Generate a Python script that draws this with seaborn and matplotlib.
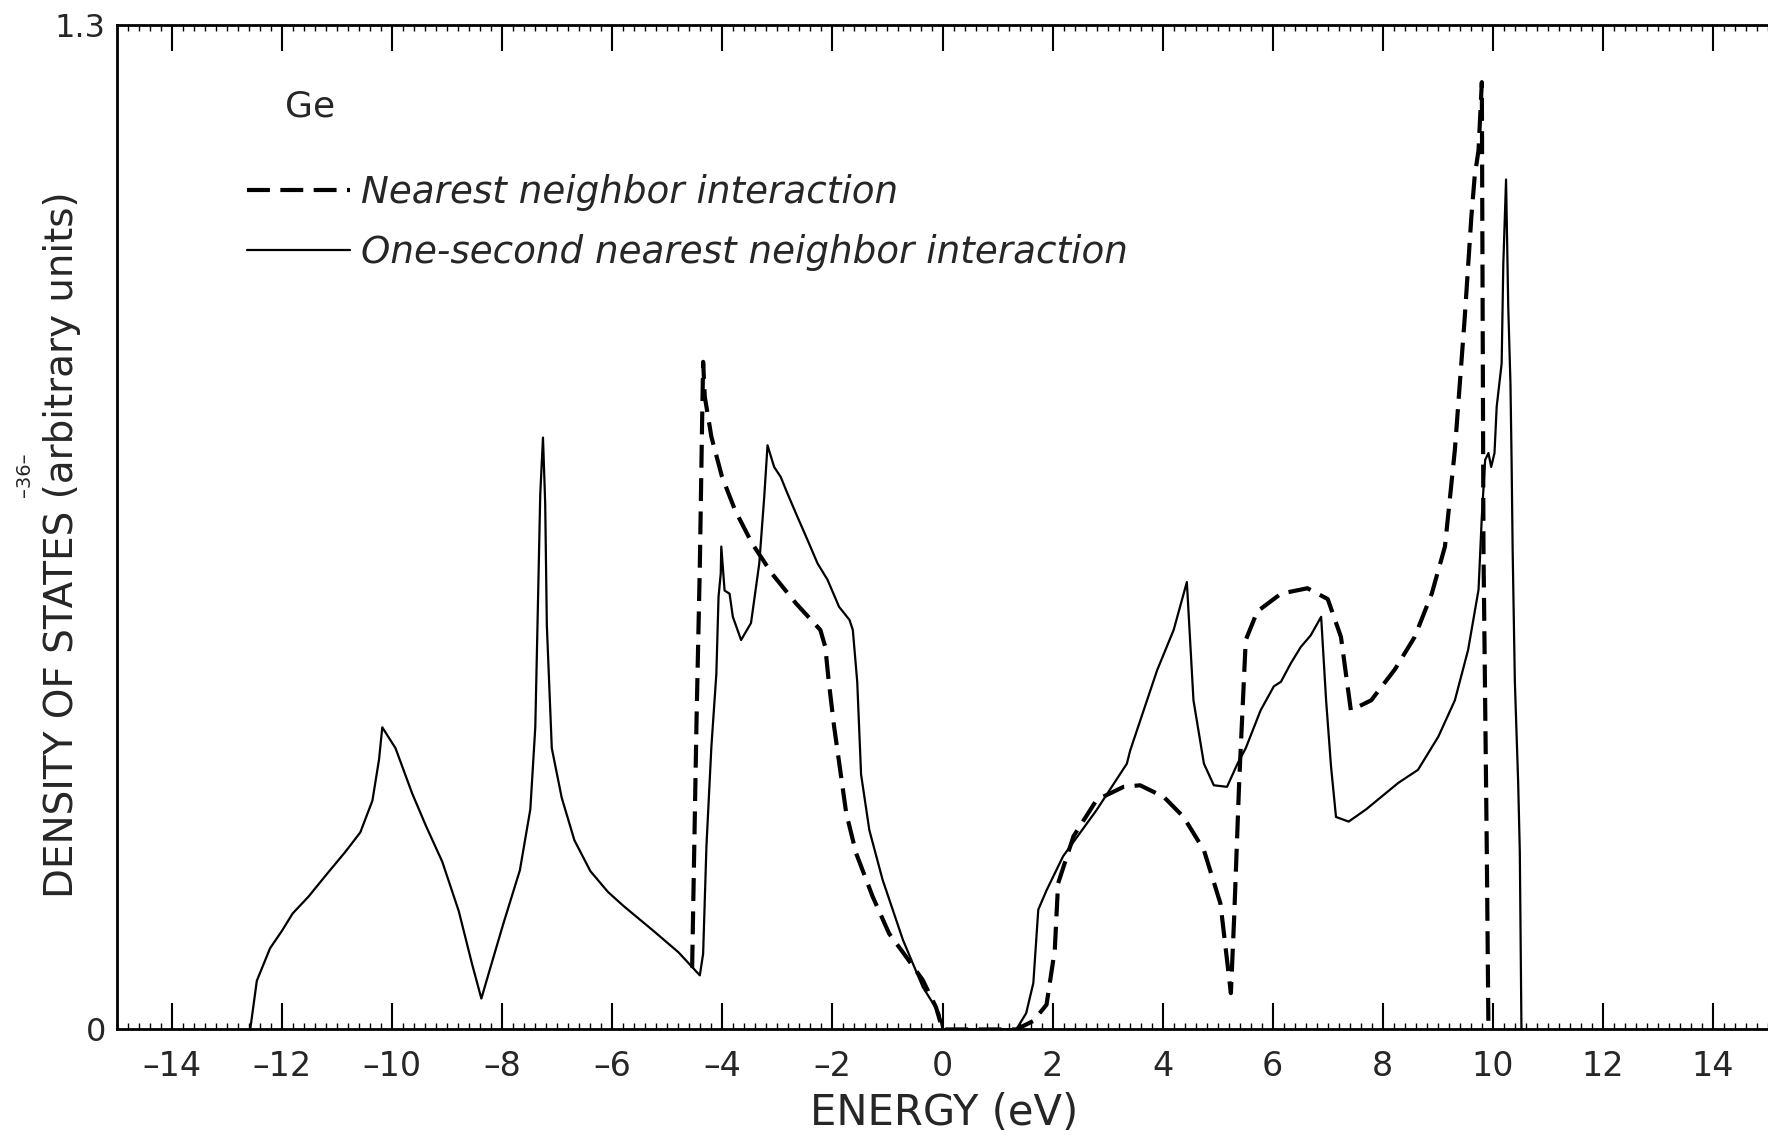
import numpy as np
import pandas as pd
import matplotlib
matplotlib.use("Agg")
import matplotlib.pyplot as plt
from matplotlib.ticker import MultipleLocator
import seaborn as sns

### DATA ###
# nearest neighbor interaction (dashed)
energy_nn = [-4.55, -4.52, -4.47, -4.41, -4.37, -4.35, -4.32, -4.20, -4.01, -3.77,
             -3.46, -3.10, -2.67, -2.22, -2.13, -2.07, -1.97, -1.75, -1.57, -1.27,
             -0.97, -0.66, -0.36, -0.12, 0.0, 1.34, 1.65, 1.89, 2.04, 2.10,
             2.38, 2.80, 3.29, 3.59, 4.02, 4.38, 4.75, 5.05, 5.24, 5.30,
             5.39, 5.51, 5.72, 6.15, 6.63, 7.00, 7.24, 7.42, 7.79, 8.22,
             8.58, 8.89, 9.13, 9.31, 9.49, 9.61, 9.67, 9.74, 9.80, 9.83,
             9.89, 9.92]
dos_nn = [0.08, 0.20, 0.40, 0.60, 0.78, 0.864, 0.819, 0.767, 0.716, 0.672,
          0.629, 0.590, 0.552, 0.517, 0.495, 0.452, 0.392, 0.280, 0.228, 0.172,
          0.124, 0.094, 0.064, 0.029, 0.0, 0.0, 0.011, 0.032, 0.103, 0.189,
          0.250, 0.297, 0.314, 0.316, 0.301, 0.275, 0.232, 0.163, 0.047, 0.146,
          0.319, 0.504, 0.541, 0.564, 0.571, 0.557, 0.508, 0.413, 0.426, 0.466,
          0.508, 0.564, 0.625, 0.750, 0.922, 1.052, 1.104, 1.138, 1.226, 0.62,
          0.232, 0.0]

# one-second nearest neighbor interaction (solid)
energy_2nn = [-12.58, -12.46, -12.22, -12.00, -11.81, -11.52, -11.20, -10.85, -10.58, -10.36,
              -10.24, -10.18, -9.94, -9.64, -9.39, -9.09, -8.79, -8.55, -8.38, -8.22,
              -7.98, -7.68, -7.49, -7.40, -7.36, -7.31, -7.26, -7.22, -7.19, -7.10,
              -6.92, -6.69, -6.40, -6.08, -5.80, -5.26, -4.80, -4.41, -4.35, -4.29,
              -4.20, -4.11, -4.07, -4.03, -4.02, -3.96, -3.87, -3.81, -3.66, -3.48,
              -3.33, -3.24, -3.18, -3.06, -2.94, -2.82, -2.64, -2.45, -2.27, -2.09,
              -1.88, -1.69, -1.63, -1.55, -1.48, -1.33, -1.09, -0.72, -0.36, -0.06,
              0.0, 1.34, 1.52, 1.65, 1.74, 1.89, 2.19, 2.80, 3.35, 3.41,
              3.90, 4.20, 4.44, 4.56, 4.75, 4.93, 5.17, 5.36, 5.51, 5.78,
              6.02, 6.15, 6.33, 6.51, 6.69, 6.88, 6.97, 7.06, 7.15, 7.38,
              7.70, 8.28, 8.64, 9.01, 9.31, 9.55, 9.74, 9.80, 9.86, 9.92,
              9.97, 10.03, 10.07, 10.16, 10.19, 10.24, 10.28, 10.32, 10.34, 10.36,
              10.40, 10.46, 10.49, 10.52]
dos_2nn = [0.0, 0.063, 0.105, 0.128, 0.150, 0.172, 0.200, 0.230, 0.255, 0.296,
           0.349, 0.391, 0.364, 0.306, 0.264, 0.217, 0.153, 0.085, 0.040, 0.079,
           0.137, 0.206, 0.285, 0.391, 0.523, 0.692, 0.766, 0.681, 0.523, 0.364,
           0.300, 0.245, 0.205, 0.178, 0.160, 0.128, 0.100, 0.070, 0.098, 0.237,
           0.366, 0.460, 0.560, 0.590, 0.625, 0.568, 0.564, 0.534, 0.504, 0.526,
           0.603, 0.689, 0.756, 0.728, 0.715, 0.694, 0.664, 0.633, 0.603, 0.582,
           0.547, 0.530, 0.517, 0.450, 0.330, 0.258, 0.194, 0.116, 0.055, 0.021,
           0.0, 0.0, 0.021, 0.060, 0.155, 0.180, 0.224, 0.284, 0.344, 0.361,
           0.465, 0.517, 0.579, 0.426, 0.344, 0.316, 0.314, 0.344, 0.364, 0.413,
           0.444, 0.450, 0.474, 0.495, 0.510, 0.534, 0.426, 0.340, 0.275, 0.269,
           0.285, 0.319, 0.336, 0.379, 0.426, 0.491, 0.569, 0.664, 0.737, 0.746,
           0.728, 0.746, 0.806, 0.862, 0.990, 1.100, 0.935, 0.836, 0.740, 0.620,
           0.450, 0.320, 0.230, 0.0]

x_ticks = [-14, -12, -10, -8, -6, -4, -2, 0, 2, 4, 6, 8, 10, 12, 14]
x_tick_labels = ["\u201314", "\u201312", "\u201310", "\u20138", "\u20136", "\u20134", "\u20132",
                 "0", "2", "4", "6", "8", "10", "12", "14"]
y_ticks = [0, 1.3]
y_tick_labels = ["0", "1.3"]
legend_labels = ["Nearest neighbor interaction", "One-second nearest neighbor interaction"]

nn_df = pd.DataFrame({"Energy": energy_nn, "DOS": dos_nn})
snn_df = pd.DataFrame({"Energy": energy_2nn, "DOS": dos_2nn})

### PLOT ###
sns.set_theme(style="white")
plt.rcParams["font.family"] = ["DejaVu Sans"]

fig = plt.figure(figsize=(17.68, 11.35), dpi=100)
ax = fig.add_axes([0.0662, 0.093, 0.9338, 0.885])

sns.lineplot(data=nn_df, x="Energy", y="DOS", ax=ax, color="black", linewidth=3.0,
             estimator=None, sort=False, label=legend_labels[0])
ax.lines[-1].set_dashes([5.5, 2.5])
sns.lineplot(data=snn_df, x="Energy", y="DOS", ax=ax, color="black", linewidth=1.6,
             estimator=None, sort=False, label=legend_labels[1])

ax.set_xlim(-15, 15)
ax.set_ylim(0, 1.3)
ax.set_xticks(x_ticks)
ax.set_xticklabels(x_tick_labels)
ax.set_yticks(y_ticks)
ax.set_yticklabels(y_tick_labels)
ax.xaxis.set_minor_locator(MultipleLocator(0.2))

ax.tick_params(axis="x", which="major", direction="in", top=True, bottom=True,
               length=19, width=1.5, labelsize=24, pad=15, color="black")
ax.tick_params(axis="x", which="minor", direction="in", top=True, bottom=True,
               length=4, width=1.0, color="black")
ax.tick_params(axis="y", which="both", left=True, right=False, length=0,
               labelsize=23, pad=8)

for side in ["top", "bottom", "left"]:
    ax.spines[side].set_visible(True)
    ax.spines[side].set_color("black")
    ax.spines[side].set_linewidth(2.0)
ax.spines["right"].set_visible(False)

ax.set_xlabel("ENERGY (eV)", fontsize=30)
ax.xaxis.set_label_coords(0.5008, -0.062)
ax.set_ylabel("DENSITY OF STATES (arbitrary units)", fontsize=28)
ax.yaxis.set_label_coords(-0.022, 0.483)

ax.text(-11.95, 1.194, "Ge", fontsize=26, ha="left", va="center")

leg = ax.legend(loc="upper left", bbox_to_anchor=(0.079, 0.852), frameon=False,
                prop={"style": "italic", "size": 26.8}, handlelength=2.75,
                handletextpad=0.3, labelspacing=0.62, borderpad=0, borderaxespad=0)

fig.text(0.0141, 0.582, "\u201336\u2013", rotation=90, fontsize=14, ha="center", va="center")

plt.savefig("out.png", dpi=100)
